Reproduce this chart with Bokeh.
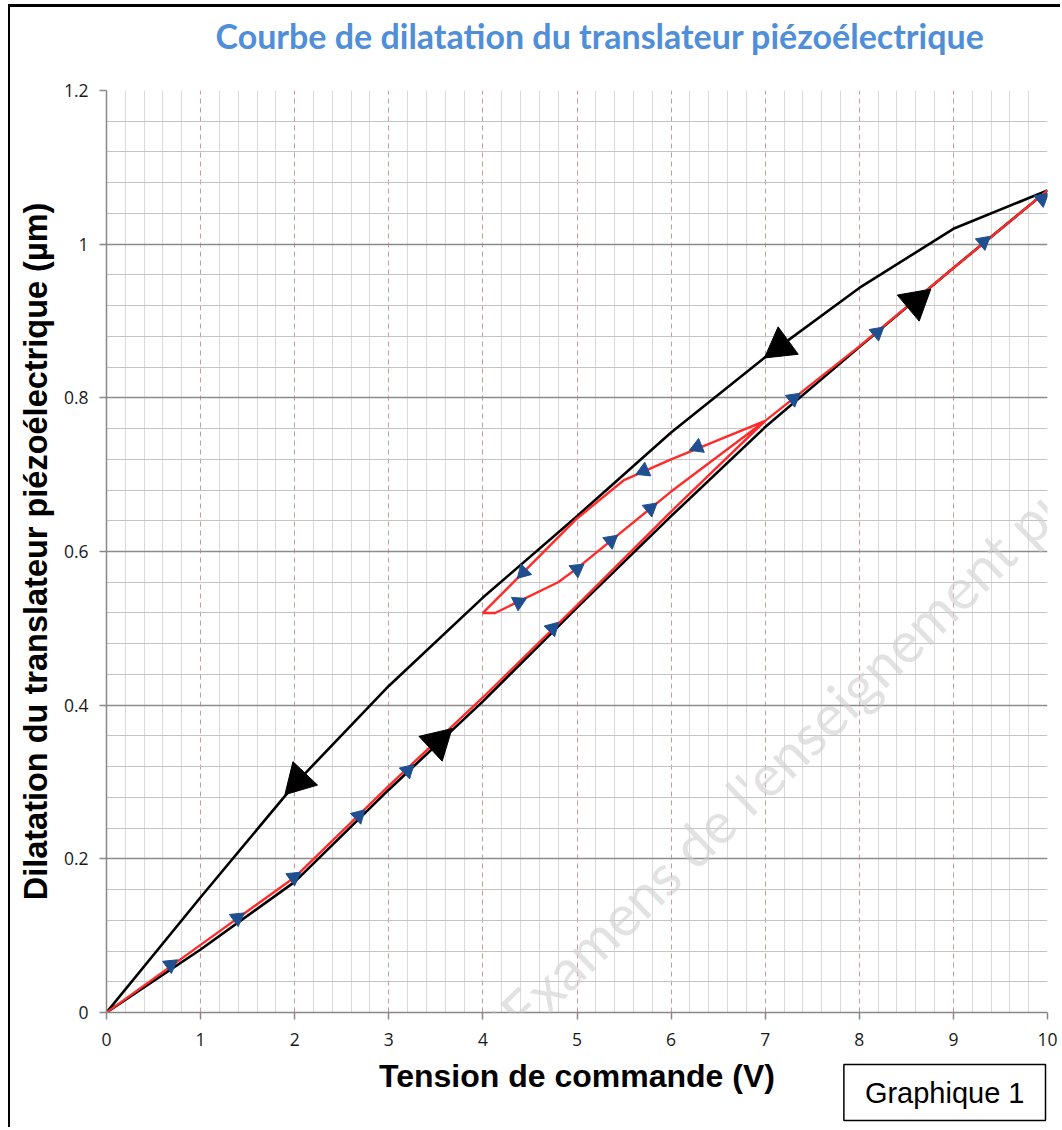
import numpy as np
from bokeh.plotting import figure
from bokeh.models import FixedTicker, Label, Range1d, Title
from bokeh.embed import file_html
from bokeh.resources import INLINE

# ---------------- data ----------------
# outer black hysteresis loop: rising branch 0 -> 10 V then falling branch 10 -> 0 V
black_x = [0, 1, 2, 3, 4, 5, 6, 7, 8, 9, 10, 9, 8, 7, 6, 5, 4, 3, 2, 1, 0]
black_y = [0, 0.082, 0.17, 0.29, 0.405, 0.527, 0.646, 0.762, 0.866, 0.969, 1.07,
           1.02, 0.943, 0.853, 0.755, 0.646, 0.54, 0.425, 0.297, 0.15, 0]

# red path: rise to 7 V, minor loop 7 -> 4 -> 7 V, then rise to 10 V
red_x = [0, 1, 2, 3, 4, 5, 6, 7, 6.5, 6, 5.5, 5, 4, 4.13, 4.8, 5, 6, 7, 8, 9, 10]
red_y = [0, 0.088, 0.176, 0.295, 0.41, 0.53, 0.652, 0.77, 0.745, 0.72, 0.693, 0.643,
         0.52, 0.52, 0.56, 0.578, 0.678, 0.77, 0.867, 0.969, 1.07]

# blue direction markers on the red path
marker_x = [0.68, 1.39, 1.99, 2.68, 3.20, 4.74, 6.28, 5.71, 4.43, 4.38, 5.0, 5.36, 5.78,
            7.30, 8.19, 9.32, 9.94]
marker_y = [0.062, 0.123, 0.176, 0.256, 0.315, 0.50, 0.736, 0.705, 0.573, 0.534, 0.577,
            0.614, 0.656, 0.799, 0.885, 1.003, 1.059]

# large black arrowheads on the outer loop
arrow_x = [2.04, 7.16, 3.52, 8.60]
arrow_y = [0.302, 0.867, 0.352, 0.925]

x_ticks = [0, 1, 2, 3, 4, 5, 6, 7, 8, 9, 10]
x_tick_labels = ["0", "1", "2", "3", "4", "5", "6", "7", "8", "9", "10"]
y_ticks = [0, 0.2, 0.4, 0.6, 0.8, 1, 1.2]
y_tick_labels = ["0", "0.2", "0.4", "0.6", "0.8", "1", "1.2"]

title_text = "Courbe de dilatation du  translateur piézoélectrique"
x_title = "Tension de commande (V)"
y_title = "Dilatation du translateur piézoélectrique (µm)"
watermark_text = "Sujets d'Examens de l'enseignement public"
box_text = "Graphique 1"

# ---------------- figure ----------------
# element starts at (8, 4) with a 2px left / 3px top border -> content origin (10, 7)
ML, MR, MT, MB = 96, 15, 83, 118
W, H = ML + 941 + MR, MT + 922 + MB
X0, X1, Y0, Y1 = 0, 10, 0, 1.2
SX = (W - ML - MR) / (X1 - X0)   # px per volt
SY = (H - MT - MB) / (Y1 - Y0)   # px per micrometre


def headings(px, py, lx, ly):
    """rotation of an up-pointing triangle so that it follows the path direction"""
    out = []
    for x0, y0 in zip(px, py):
        best = None
        for i in range(len(lx) - 1):
            ax, ay = lx[i] * SX, ly[i] * SY
            bx, by = lx[i + 1] * SX, ly[i + 1] * SY
            dx, dy = bx - ax, by - ay
            L2 = dx * dx + dy * dy
            if L2 == 0:
                continue
            t = ((x0 * SX - ax) * dx + (y0 * SY - ay) * dy) / L2
            t = min(1.0, max(0.0, t))
            d = (ax + t * dx - x0 * SX) ** 2 + (ay + t * dy - y0 * SY) ** 2
            if best is None or d < best[0]:
                best = (d, np.arctan2(dy, dx))
        out.append(best[1] - np.pi / 2)
    return out


p = figure(width=W, height=H, x_range=Range1d(X0, X1), y_range=Range1d(Y0, Y1),
           output_backend="svg", toolbar_location=None,
           min_border_left=ML, min_border_right=MR, min_border_top=MT, min_border_bottom=MB)
p.styles = {"border-top": "3px solid black", "border-left": "2px solid black",
            "margin-top": "4px", "margin-left": "8px"}
p.outline_line_color = None
p.background_fill_color = "white"
p.border_fill_color = "white"

# title (second, blank line keeps the gap above the frame)
p.title.text = title_text + "\n "
p.title.align = "left"
p.title.offset = 109
p.title.vertical_align = "top"
p.title.standoff = 0
p.title.text_font = "Lato"
p.title.text_font_style = "bold"
p.title.text_font_size = "34px"
p.title.text_line_height = 0.8
p.title.text_color = "#4f8ed8"

x_minor = [round(i * 0.2, 2) for i in range(51) if i % 5]
y_minor = [round(i * 0.04, 2) for i in range(31) if i % 5]
p.xaxis.ticker = FixedTicker(ticks=x_ticks, minor_ticks=x_minor)
p.yaxis.ticker = FixedTicker(ticks=y_ticks, minor_ticks=y_minor)
p.xaxis.major_label_overrides = dict(zip(x_ticks, x_tick_labels))
p.yaxis.major_label_overrides = dict(zip(y_ticks, y_tick_labels))

p.xgrid.grid_line_color = "#cc9a9a"
p.xgrid.grid_line_dash = "5 4"
p.xgrid.grid_line_width = 1
p.xgrid.minor_grid_line_color = "#d9d9d9"
p.xgrid.minor_grid_line_width = 1
p.ygrid.grid_line_color = "#8c8c8c"
p.ygrid.grid_line_width = 1.3
p.ygrid.minor_grid_line_color = "#c4c4c4"
p.ygrid.minor_grid_line_width = 1.2

for ax in (p.xaxis, p.yaxis):
    ax.axis_line_color = "#888888"
    ax.axis_line_width = 1.5
    ax.major_tick_line_color = "#888888"
    ax.major_tick_line_width = 1.5
    ax.major_tick_in = 0
    ax.major_tick_out = 7
    ax.minor_tick_line_color = None
    ax.major_label_text_font = "Open Sans"
    ax.major_label_text_font_size = "17.5px"
    ax.major_label_text_color = "#1a1a1a"
    ax.axis_label_text_font = "Liberation Sans"
    ax.axis_label_text_font_style = "bold"
    ax.axis_label_text_color = "black"

p.xaxis.axis_label_text_font_size = "32px"
p.yaxis.axis_label_text_font_size = "32.5px"
p.xaxis.major_label_standoff = 13
p.yaxis.major_label_standoff = 11
p.xaxis.axis_label = x_title
p.yaxis.axis_label = y_title
p.xaxis.axis_label_standoff = 9
p.yaxis.axis_label_standoff = 7

# curves
p.line(black_x, black_y, line_color="black", line_width=2.6)
p.line(red_x, red_y, line_color="#ff2b2b", line_width=2.4)
p.scatter(marker_x, marker_y, marker="triangle", size=15,
          angle=headings(marker_x, marker_y, red_x, red_y),
          fill_color="#1f4f8f", line_color="#1f4f8f")
p.scatter(arrow_x, arrow_y, marker="triangle", size=34,
          angle=headings(arrow_x, arrow_y, black_x, black_y),
          fill_color="black", line_color="black")

# watermark
p.add_layout(Label(x=6.75, y=0.28, text=watermark_text, angle=44, angle_units="deg",
                   text_align="center", text_baseline="middle", text_font="Lato",
                   text_font_size="57px", text_color="#cfcfcf", text_alpha=0.6))

# "Graphique 1" box, pulled up beside the x-axis title
p.add_layout(Title(text=box_text, align="right", offset=2, vertical_align="top",
                   standoff=-64, text_font="Liberation Sans", text_font_style="normal",
                   text_font_size="29px", text_color="black",
                   background_fill_color="white", border_line_color="black",
                   border_line_width=1.5, padding=dict(left=21, right=21, top=12, bottom=12)),
             "below")

open("out.html", "w").write(file_html(p, INLINE))
